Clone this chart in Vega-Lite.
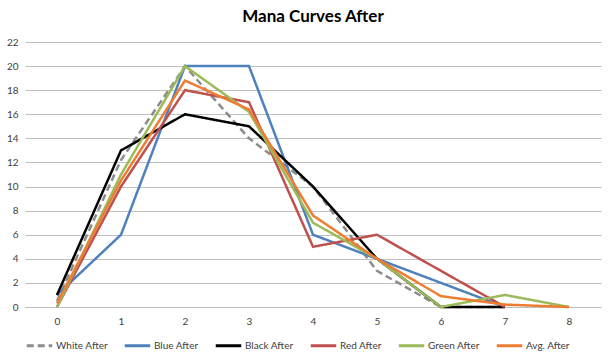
{
  "$schema": "https://vega.github.io/schema/vega-lite/v6.json",
  "width": 576,
  "height": 265,
  "autosize": {"type": "none"},
  "padding": {"left": 25, "top": 42, "right": 9, "bottom": 48},
  "background": "white",
  "title": {
    "text": "Mana Curves After",
    "font": "Lato",
    "fontSize": 17,
    "fontWeight": "bold",
    "color": "#000000",
    "offset": 11,
    "anchor": "middle"
  },
  "config": {
    "view": {"stroke": null},
    "font": "Lato"
  },
  "data": {
    "values": [
      {"x": 0, "series": "White After", "value": 0.5},
      {"x": 1, "series": "White After", "value": 12.2},
      {"x": 2, "series": "White After", "value": 20},
      {"x": 3, "series": "White After", "value": 14},
      {"x": 4, "series": "White After", "value": 10},
      {"x": 5, "series": "White After", "value": 3},
      {"x": 6, "series": "White After", "value": 0},
      {"x": 7, "series": "White After", "value": 0},
      {"x": 0, "series": "Blue After", "value": 1},
      {"x": 1, "series": "Blue After", "value": 6},
      {"x": 2, "series": "Blue After", "value": 20},
      {"x": 3, "series": "Blue After", "value": 20},
      {"x": 4, "series": "Blue After", "value": 6},
      {"x": 5, "series": "Blue After", "value": 4},
      {"x": 6, "series": "Blue After", "value": 2},
      {"x": 7, "series": "Blue After", "value": 0},
      {"x": 0, "series": "Black After", "value": 1},
      {"x": 1, "series": "Black After", "value": 13},
      {"x": 2, "series": "Black After", "value": 16},
      {"x": 3, "series": "Black After", "value": 15},
      {"x": 4, "series": "Black After", "value": 10},
      {"x": 5, "series": "Black After", "value": 4},
      {"x": 6, "series": "Black After", "value": 0},
      {"x": 7, "series": "Black After", "value": 0},
      {"x": 0, "series": "Red After", "value": 0},
      {"x": 1, "series": "Red After", "value": 10},
      {"x": 2, "series": "Red After", "value": 18},
      {"x": 3, "series": "Red After", "value": 17},
      {"x": 4, "series": "Red After", "value": 5},
      {"x": 5, "series": "Red After", "value": 6},
      {"x": 6, "series": "Red After", "value": 3},
      {"x": 7, "series": "Red After", "value": 0},
      {"x": 0, "series": "Green After", "value": 0},
      {"x": 1, "series": "Green After", "value": 11},
      {"x": 2, "series": "Green After", "value": 20},
      {"x": 3, "series": "Green After", "value": 16.2},
      {"x": 4, "series": "Green After", "value": 7},
      {"x": 5, "series": "Green After", "value": 4},
      {"x": 6, "series": "Green After", "value": 0},
      {"x": 7, "series": "Green After", "value": 1},
      {"x": 8, "series": "Green After", "value": 0},
      {"x": 0, "series": "Avg. After", "value": 0.3},
      {"x": 1, "series": "Avg. After", "value": 10.5},
      {"x": 2, "series": "Avg. After", "value": 18.8},
      {"x": 3, "series": "Avg. After", "value": 16.4},
      {"x": 4, "series": "Avg. After", "value": 7.6},
      {"x": 5, "series": "Avg. After", "value": 4},
      {"x": 6, "series": "Avg. After", "value": 0.9},
      {"x": 7, "series": "Avg. After", "value": 0.2},
      {"x": 8, "series": "Avg. After", "value": 0}
    ]
  },
  "mark": {"type": "line", "strokeWidth": 2.5, "strokeJoin": "miter", "clip": false},
  "encoding": {
    "x": {
      "field": "x",
      "type": "quantitative",
      "scale": {"domain": [-0.5, 8.5], "nice": false, "zero": false},
      "axis": {
        "values": [0, 1, 2, 3, 4, 5, 6, 7, 8],
        "title": null,
        "grid": false,
        "ticks": false,
        "domain": true,
        "domainColor": "#BFBFBF",
        "domainWidth": 1,
        "labelFont": "Lato",
        "labelFontSize": 10,
        "labelColor": "#404040",
        "labelPadding": 9,
        "labelFlush": false
      }
    },
    "y": {
      "field": "value",
      "type": "quantitative",
      "scale": {"domain": [0, 22], "nice": false},
      "axis": {
        "values": [0, 2, 4, 6, 8, 10, 12, 14, 16, 18, 20, 22],
        "title": null,
        "grid": true,
        "gridColor": "#BFBFBF",
        "gridWidth": 1,
        "ticks": false,
        "domain": false,
        "labelFont": "Lato",
        "labelFontSize": 10,
        "labelColor": "#404040",
        "labelPadding": 7
      }
    },
    "color": {
      "field": "series",
      "type": "nominal",
      "sort": ["White After", "Blue After", "Black After", "Red After", "Green After", "Avg. After"],
      "scale": {
        "domain": ["White After", "Blue After", "Black After", "Red After", "Green After", "Avg. After"],
        "range": ["#8C8C8C", "#4F81BD", "#000000", "#C0504D", "#9BBB59", "#ED7D31"]
      },
      "legend": {
        "orient": "bottom",
        "direction": "horizontal",
        "title": null,
        "symbolType": "stroke",
        "symbolSize": 650,
        "symbolStrokeWidth": 3,
        "labelFont": "Lato",
        "labelFontSize": 10,
        "labelColor": "#404040",
        "labelOffset": 2,
        "columnPadding": 10,
        "offset": 5
      }
    },
    "strokeDash": {
      "field": "series",
      "type": "nominal",
      "sort": ["White After", "Blue After", "Black After", "Red After", "Green After", "Avg. After"],
      "scale": {
        "domain": ["White After", "Blue After", "Black After", "Red After", "Green After", "Avg. After"],
        "range": [[7, 4], [1, 0], [1, 0], [1, 0], [1, 0], [1, 0]]
      },
      "legend": {
        "orient": "bottom",
        "direction": "horizontal",
        "title": null,
        "symbolType": "stroke",
        "symbolSize": 650,
        "symbolStrokeWidth": 3,
        "labelFont": "Lato",
        "labelFontSize": 10,
        "labelColor": "#404040",
        "labelOffset": 2,
        "columnPadding": 10,
        "offset": 5
      }
    }
  }
}
